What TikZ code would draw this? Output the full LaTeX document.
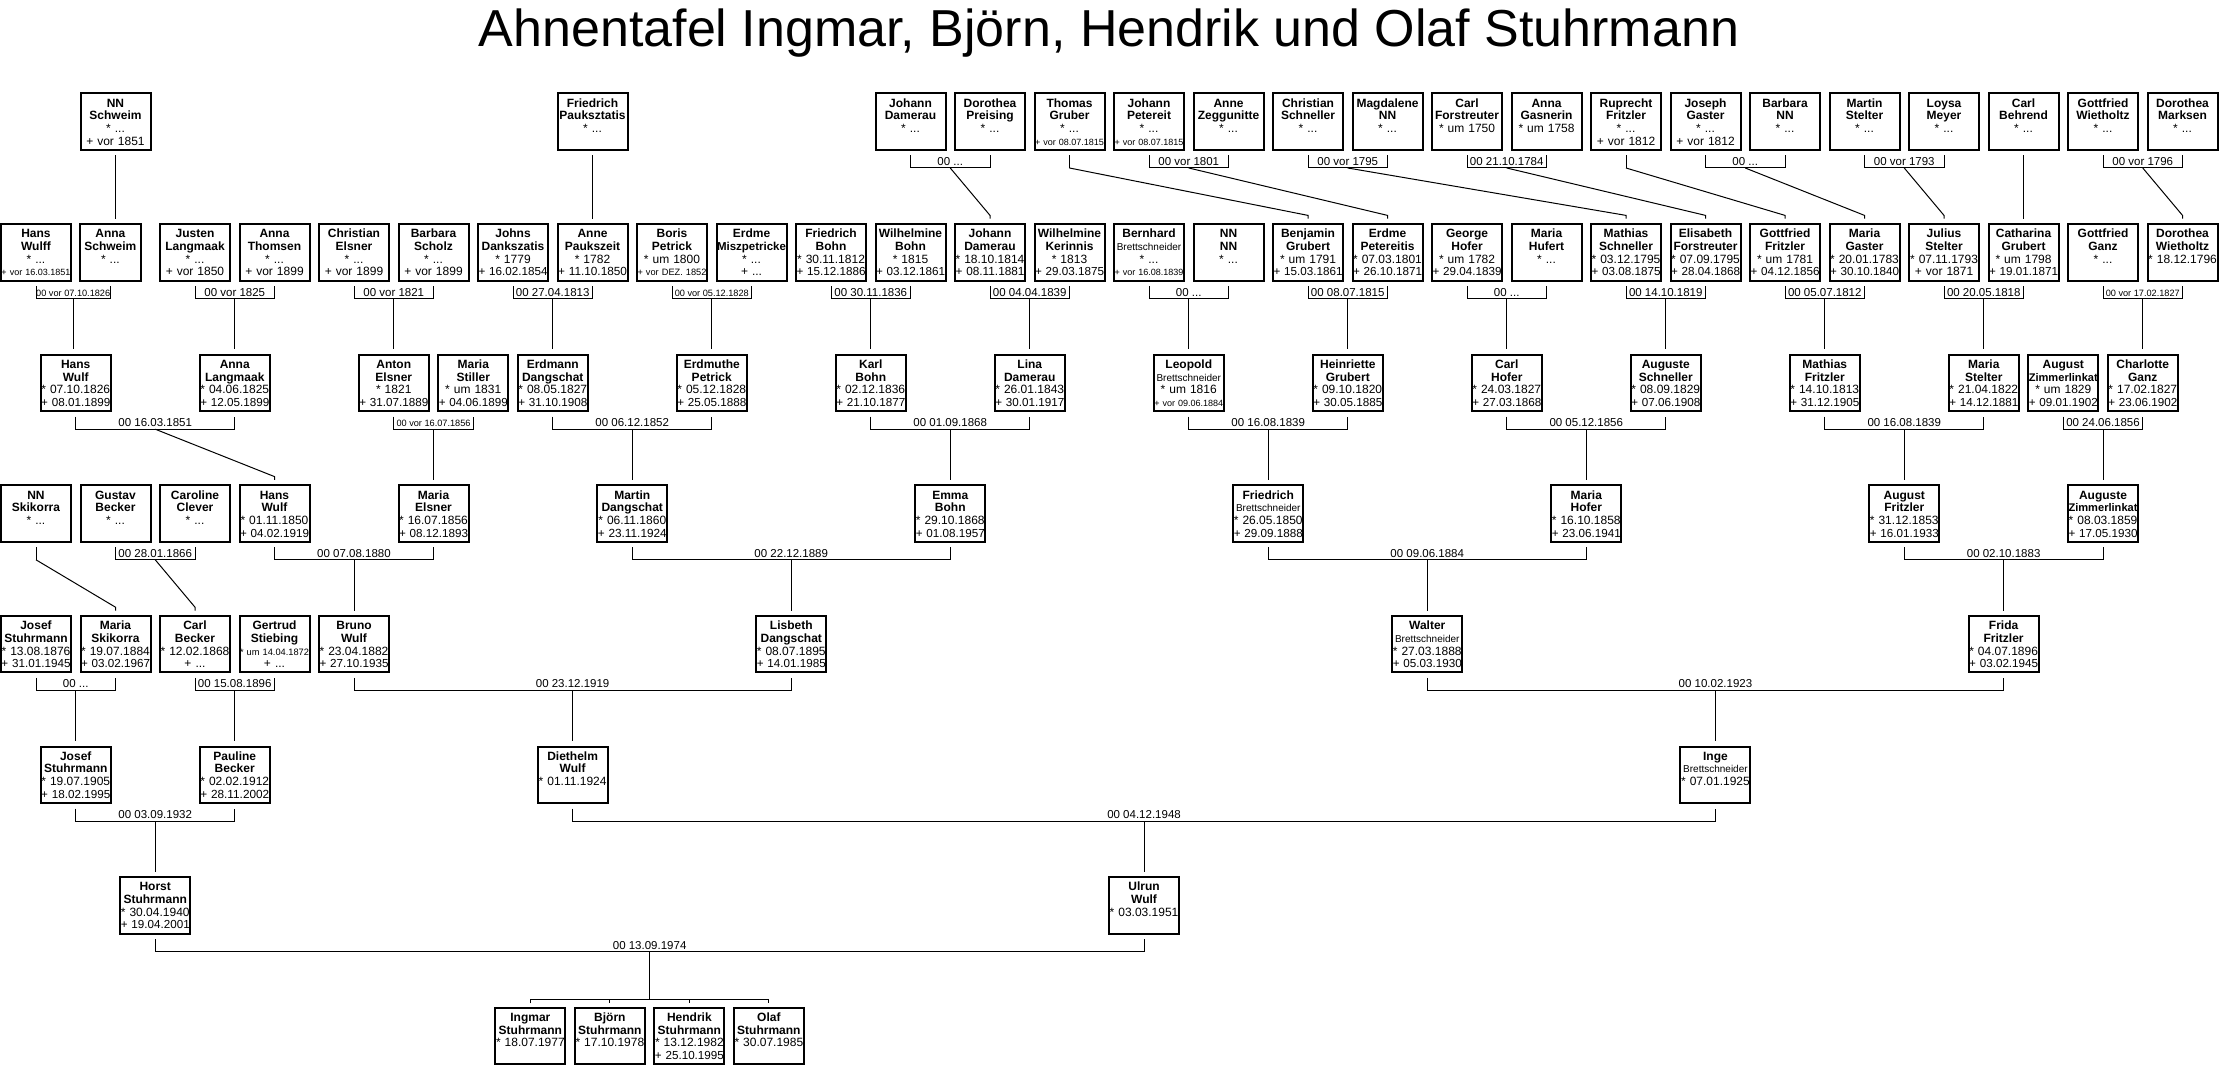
\documentclass[tikz,border=0pt]{standalone}
\usepackage{fontspec}
\setmainfont{Liberation Sans}
\usepackage{graphicx}
\usetikzlibrary{calc}
\newsavebox\fitbox
\newcommand\fitw[2]{\sbox\fitbox{#2}\ifdim\wd\fitbox>#1\relax\resizebox{#1}{!}{\usebox\fitbox}\else\usebox\fitbox\fi}
\newcommand\bsm{\mdseries\fontsize{10}{12.7}\selectfont}
\newcommand\topstrut{\rule{0pt}{12.9pt}}
\tikzset{
  person/.style={draw, line width=2pt, fill=white, inner sep=0pt, text width=70pt,
    minimum height=56.5pt, align=center, font=\fontsize{12}{12.7}\selectfont},
  conn/.style={draw, line width=1pt},
  mlabel/.style={anchor=base, inner sep=0pt, font=\fontsize{11.5}{12}\selectfont}
}
\newcommand\pers[7]{\node[person] (#1) at ({79.5*(#2)+36},{121.75+130.6*(#3)})
  {\topstrut\fitw{69pt}{\bfseries #4}\\\strut\fitw{69pt}{\bfseries #5}\\\strut\fitw{69pt}{#6}\\\strut\fitw{69pt}{#7}};}
\newcommand\couple[4]{%
  \coordinate (#4) at ($([yshift=-17pt]#1.south)!0.5!([yshift=-17pt]#2.south)$);
  \draw[conn] ([yshift=-4.5pt]#1.south) -- ([yshift=-17pt]#1.south) -- ([yshift=-17pt]#2.south) -- ([yshift=-4.5pt]#2.south);
  \node[mlabel] at ([yshift=2.5pt]#4) {\fitw{74pt}{#3}};}
\newcommand\sgl[2]{\coordinate (#2) at ([yshift=-17pt]#1.south);
  \draw[conn] ([yshift=-4.5pt]#1.south) -- (#2);}
\newcommand\kid[2]{\draw[conn, shorten >=4.4pt] (#1) -- (#1 |- #2.north);}
\newcommand\dkid[2]{\draw[conn] (#1) -- ([yshift=7.7pt]#2.north) -- ([yshift=4.4pt]#2.north);}
\begin{document}
\begin{tikzpicture}[x=1pt, y=-1pt]
\fill[white] (0,0) rectangle (2221,1067);
\useasboundingbox (0,0) rectangle (2221,1067);
\node[anchor=base, inner sep=0pt, font=\fontsize{52}{60}\selectfont] (title) at (1109,47) {Ahnentafel Ingmar, Björn, Hendrik und Olaf Stuhrmann};
% Row 0
\pers{a1}{1}{0}{NN}{Schweim}{* ...}{+ vor 1851}
\pers{a7}{7}{0}{Friedrich}{Pauksztatis}{* ...}{}
\pers{a11}{11}{0}{Johann}{Damerau}{* ...}{}
\pers{a12}{12}{0}{Dorothea}{Preising}{* ...}{}
\pers{a13}{13}{0}{Thomas}{Gruber}{* ...}{+ vor 08.07.1815}
\pers{a14}{14}{0}{Johann}{Petereit}{* ...}{+ vor 08.07.1815}
\pers{a15}{15}{0}{Anne}{Zeggunitte}{* ...}{}
\pers{a16}{16}{0}{Christian}{Schneller}{* ...}{}
\pers{a17}{17}{0}{Magdalene}{NN}{* ...}{}
\pers{a18}{18}{0}{Carl}{Forstreuter}{* um 1750}{}
\pers{a19}{19}{0}{Anna}{Gasnerin}{* um 1758}{}
\pers{a20}{20}{0}{Ruprecht}{Fritzler}{* ...}{+ vor 1812}
\pers{a21}{21}{0}{Joseph}{Gaster}{* ...}{+ vor 1812}
\pers{a22}{22}{0}{Barbara}{NN}{* ...}{}
\pers{a23}{23}{0}{Martin}{Stelter}{* ...}{}
\pers{a24}{24}{0}{Loysa}{Meyer}{* ...}{}
\pers{a25}{25}{0}{Carl}{Behrend}{* ...}{}
\pers{a26}{26}{0}{Gottfried}{Wietholtz}{* ...}{}
\pers{a27}{27}{0}{Dorothea}{Marksen}{* ...}{}
% Row 1
\pers{b0}{0}{1}{Hans}{Wulff}{* ...}{+ vor 16.03.1851}
\node[person, text width=61.5pt] (b1) at (110.4,252.35) {\topstrut\textbf{Anna}\\\strut\textbf{Schweim}\\\strut * ...\\\strut};
\pers{b2}{2}{1}{Justen}{Langmaak}{* ...}{+ vor 1850}
\pers{b3}{3}{1}{Anna}{Thomsen}{* ...}{+ vor 1899}
\pers{b4}{4}{1}{Christian}{Elsner}{* ...}{+ vor 1899}
\pers{b5}{5}{1}{Barbara}{Scholz}{* ...}{+ vor 1899}
\pers{b6}{6}{1}{Johns}{Dankszatis}{* 1779}{+ 16.02.1854}
\pers{b7}{7}{1}{Anne}{Paukszeit}{* 1782}{+ 11.10.1850}
\pers{b8}{8}{1}{Boris}{Petrick}{* um 1800}{+ vor DEZ. 1852}
\pers{b9}{9}{1}{Erdme}{Miszpetricke}{* ...}{+ ...}
\pers{b10}{10}{1}{Friedrich}{Bohn}{* 30.11.1812}{+ 15.12.1886}
\pers{b11}{11}{1}{Wilhelmine}{Bohn}{* 1815}{+ 03.12.1861}
\pers{b12}{12}{1}{Johann}{Damerau}{* 18.10.1814}{+ 08.11.1881}
\pers{b13}{13}{1}{Wilhelmine}{Kerinnis}{* 1813}{+ 29.03.1875}
\pers{b14}{14}{1}{Bernhard}{\bsm Brettschneider}{* ...}{+ vor 16.08.1839}
\pers{b15}{15}{1}{NN}{NN}{* ...}{}
\pers{b16}{16}{1}{Benjamin}{Grubert}{* um 1791}{+ 15.03.1861}
\pers{b17}{17}{1}{Erdme}{Petereitis}{* 07.03.1801}{+ 26.10.1871}
\pers{b18}{18}{1}{George}{Hofer}{* um 1782}{+ 29.04.1839}
\pers{b19}{19}{1}{Maria}{Hufert}{* ...}{}
\pers{b20}{20}{1}{Mathias}{Schneller}{* 03.12.1795}{+ 03.08.1875}
\pers{b21}{21}{1}{Elisabeth}{Forstreuter}{* 07.09.1795}{+ 28.04.1868}
\pers{b22}{22}{1}{Gottfried}{Fritzler}{* um 1781}{+ 04.12.1856}
\pers{b23}{23}{1}{Maria}{Gaster}{* 20.01.1783}{+ 30.10.1840}
\pers{b24}{24}{1}{Julius}{Stelter}{* 07.11.1793}{+ vor 1871}
\pers{b25}{25}{1}{Catharina}{Grubert}{* um 1798}{+ 19.01.1871}
\pers{b26}{26}{1}{Gottfried}{Ganz}{* ...}{}
\pers{b27}{27}{1}{Dorothea}{Wietholtz}{* 18.12.1796}{}
% Row 2
\pers{c0}{0.5}{2}{Hans}{Wulf}{* 07.10.1826}{+ 08.01.1899}
\pers{c2}{2.5}{2}{Anna}{Langmaak}{* 04.06.1825}{+ 12.05.1899}
\pers{c4}{4.5}{2}{Anton}{Elsner}{* 1821}{+ 31.07.1889}
\pers{c5}{5.5}{2}{Maria}{Stiller}{* um 1831}{+ 04.06.1899}
\pers{c6}{6.5}{2}{Erdmann}{Dangschat}{* 08.05.1827}{+ 31.10.1908}
\pers{c8}{8.5}{2}{Erdmuthe}{Petrick}{* 05.12.1828}{+ 25.05.1888}
\pers{c10}{10.5}{2}{Karl}{Bohn}{* 02.12.1836}{+ 21.10.1877}
\pers{c12}{12.5}{2}{Lina}{Damerau}{* 26.01.1843}{+ 30.01.1917}
\pers{c14}{14.5}{2}{Leopold}{\bsm Brettschneider}{* um 1816}{+ vor 09.06.1884}
\pers{c16}{16.5}{2}{Heinriette}{Grubert}{* 09.10.1820}{+ 30.05.1885}
\pers{c18}{18.5}{2}{Carl}{Hofer}{* 24.03.1827}{+ 27.03.1868}
\pers{c20}{20.5}{2}{Auguste}{Schneller}{* 08.09.1829}{+ 07.06.1908}
\pers{c22}{22.5}{2}{Mathias}{Fritzler}{* 14.10.1813}{+ 31.12.1905}
\pers{c24}{24.5}{2}{Maria}{Stelter}{* 21.04.1822}{+ 14.12.1881}
\pers{c25}{25.5}{2}{August}{Zimmerlinkat}{* um 1829}{+ 09.01.1902}
\pers{c26}{26.5}{2}{Charlotte}{Ganz}{* 17.02.1827}{+ 23.06.1902}
% Row 3
\pers{d0}{0}{3}{NN}{Skikorra}{* ...}{}
\pers{d1}{1}{3}{Gustav}{Becker}{* ...}{}
\pers{d2}{2}{3}{Caroline}{Clever}{* ...}{}
\pers{d3}{3}{3}{Hans}{Wulf}{* 01.11.1850}{+ 04.02.1919}
\pers{d5}{5}{3}{Maria}{Elsner}{* 16.07.1856}{+ 08.12.1893}
\pers{d7}{7.5}{3}{Martin}{Dangschat}{* 06.11.1860}{+ 23.11.1924}
\pers{d11}{11.5}{3}{Emma}{Bohn}{* 29.10.1868}{+ 01.08.1957}
\pers{d15}{15.5}{3}{Friedrich}{\bsm Brettschneider}{* 26.05.1850}{+ 29.09.1888}
\pers{d19}{19.5}{3}{Maria}{Hofer}{* 16.10.1858}{+ 23.06.1941}
\pers{d23}{23.5}{3}{August}{Fritzler}{* 31.12.1853}{+ 16.01.1933}
\pers{d26}{26}{3}{Auguste}{Zimmerlinkat}{* 08.03.1859}{+ 17.05.1930}
% Row 4
\pers{e0}{0}{4}{Josef}{Stuhrmann}{* 13.08.1876}{+ 31.01.1945}
\pers{e1}{1}{4}{Maria}{Skikorra}{* 19.07.1884}{+ 03.02.1967}
\pers{e2}{2}{4}{Carl}{Becker}{* 12.02.1868}{+ ...}
\pers{e3}{3}{4}{Gertrud}{Stiebing}{* um 14.04.1872}{+ ...}
\pers{e4}{4}{4}{Bruno}{Wulf}{* 23.04.1882}{+ 27.10.1935}
\pers{e9}{9.5}{4}{Lisbeth}{Dangschat}{* 08.07.1895}{+ 14.01.1985}
\pers{e17}{17.5}{4}{Walter}{\bsm Brettschneider}{* 27.03.1888}{+ 05.03.1930}
\pers{e24}{24.75}{4}{Frida}{Fritzler}{* 04.07.1896}{+ 03.02.1945}
% Row 5
\pers{f0}{0.5}{5}{Josef}{Stuhrmann}{* 19.07.1905}{+ 18.02.1995}
\pers{f2}{2.5}{5}{Pauline}{Becker}{* 02.02.1912}{+ 28.11.2002}
\pers{f6}{6.75}{5}{Diethelm}{Wulf}{* 01.11.1924}{}
\pers{f21}{21.125}{5}{Inge}{\bsm Brettschneider}{* 07.01.1925}{}
% Row 6
\pers{g1}{1.5}{6}{Horst}{Stuhrmann}{* 30.04.1940}{+ 19.04.2001}
\pers{g13}{13.9375}{6}{Ulrun}{Wulf}{* 03.03.1951}{}
% Row 7
\pers{h1}{6.21875}{7}{Ingmar}{Stuhrmann}{* 18.07.1977}{}
\pers{h2}{7.21875}{7}{Björn}{Stuhrmann}{* 17.10.1978}{}
\pers{h3}{8.21875}{7}{Hendrik}{Stuhrmann}{* 13.12.1982}{+ 25.10.1995}
\pers{h4}{9.21875}{7}{Olaf}{Stuhrmann}{* 30.07.1985}{}
% Connections row 0 -> 1
\sgl{a1}{s1} \kid{s1}{b1}
\sgl{a7}{s7} \kid{s7}{b7}
\couple{a11}{a12}{00 ...}{m11} \dkid{m11}{b12}
\sgl{a13}{s13} \dkid{s13}{b16}
\couple{a14}{a15}{00 vor 1801}{m14} \dkid{m14}{b17}
\couple{a16}{a17}{00 vor 1795}{m16} \dkid{m16}{b20}
\couple{a18}{a19}{00 21.10.1784}{m18} \dkid{m18}{b21}
\sgl{a20}{s20} \dkid{s20}{b22}
\couple{a21}{a22}{00 ...}{m21} \dkid{m21}{b23}
\couple{a23}{a24}{00 vor 1793}{m23} \dkid{m23}{b24}
\sgl{a25}{s25} \kid{s25}{b25}
\couple{a26}{a27}{00 vor 1796}{m26} \dkid{m26}{b27}
% row 1 -> 2
\couple{b0}{b1}{00 vor 07.10.1826}{n0} \kid{n0}{c0}
\couple{b2}{b3}{00 vor 1825}{n2} \kid{n2}{c2}
\couple{b4}{b5}{00 vor 1821}{n4} \kid{n4}{c4}
\couple{b6}{b7}{00 27.04.1813}{n6} \kid{n6}{c6}
\couple{b8}{b9}{00 vor 05.12.1828}{n8} \kid{n8}{c8}
\couple{b10}{b11}{00 30.11.1836}{n10} \kid{n10}{c10}
\couple{b12}{b13}{00 04.04.1839}{n12} \kid{n12}{c12}
\couple{b14}{b15}{00 ...}{n14} \kid{n14}{c14}
\couple{b16}{b17}{00 08.07.1815}{n16} \kid{n16}{c16}
\couple{b18}{b19}{00 ...}{n18} \kid{n18}{c18}
\couple{b20}{b21}{00 14.10.1819}{n20} \kid{n20}{c20}
\couple{b22}{b23}{00 05.07.1812}{n22} \kid{n22}{c22}
\couple{b24}{b25}{00 20.05.1818}{n24} \kid{n24}{c24}
\couple{b26}{b27}{00 vor 17.02.1827}{n26} \kid{n26}{c26}
% row 2 -> 3
\couple{c0}{c2}{00 16.03.1851}{o0} \dkid{o0}{d3}
\couple{c4}{c5}{00 vor 16.07.1856}{o4} \kid{o4}{d5}
\couple{c6}{c8}{00 06.12.1852}{o6} \kid{o6}{d7}
\couple{c10}{c12}{00 01.09.1868}{o10} \kid{o10}{d11}
\couple{c14}{c16}{00 16.08.1839}{o14} \kid{o14}{d15}
\couple{c18}{c20}{00 05.12.1856}{o18} \kid{o18}{d19}
\couple{c22}{c24}{00 16.08.1839}{o22} \kid{o22}{d23}
\couple{c25}{c26}{00 24.06.1856}{o25} \kid{o25}{d26}
% row 3 -> 4
\sgl{d0}{t0} \dkid{t0}{e1}
\couple{d1}{d2}{00 28.01.1866}{p1} \dkid{p1}{e2}
\couple{d3}{d5}{00 07.08.1880}{p3} \kid{p3}{e4}
\couple{d7}{d11}{00 22.12.1889}{p7} \kid{p7}{e9}
\couple{d15}{d19}{00 09.06.1884}{p15} \kid{p15}{e17}
\couple{d23}{d26}{00 02.10.1883}{p23} \kid{p23}{e24}
% row 4 -> 5
\couple{e0}{e1}{00 ...}{q0} \kid{q0}{f0}
\couple{e2}{e3}{00 15.08.1896}{q2} \kid{q2}{f2}
\couple{e4}{e9}{00 23.12.1919}{q4} \kid{q4}{f6}
\couple{e17}{e24}{00 10.02.1923}{q17} \kid{q17}{f21}
% row 5 -> 6
\couple{f0}{f2}{00 03.09.1932}{r0} \kid{r0}{g1}
\couple{f6}{f21}{00 04.12.1948}{r6} \kid{r6}{g13}
% row 6 -> 7
\couple{g1}{g13}{00 13.09.1974}{u1}
\draw[conn, shorten >=7.4pt] (u1) -- (u1 |- h1.north);
\draw[conn] ([yshift=3.4pt]h1.north) -- ([yshift=7.4pt]h1.north) -- ([yshift=7.4pt]h4.north) -- ([yshift=3.4pt]h4.north);
\draw[conn] ([yshift=7.4pt]h2.north) -- ([yshift=3.4pt]h2.north);
\draw[conn] ([yshift=7.4pt]h3.north) -- ([yshift=3.4pt]h3.north);
\end{tikzpicture}
\end{document}
